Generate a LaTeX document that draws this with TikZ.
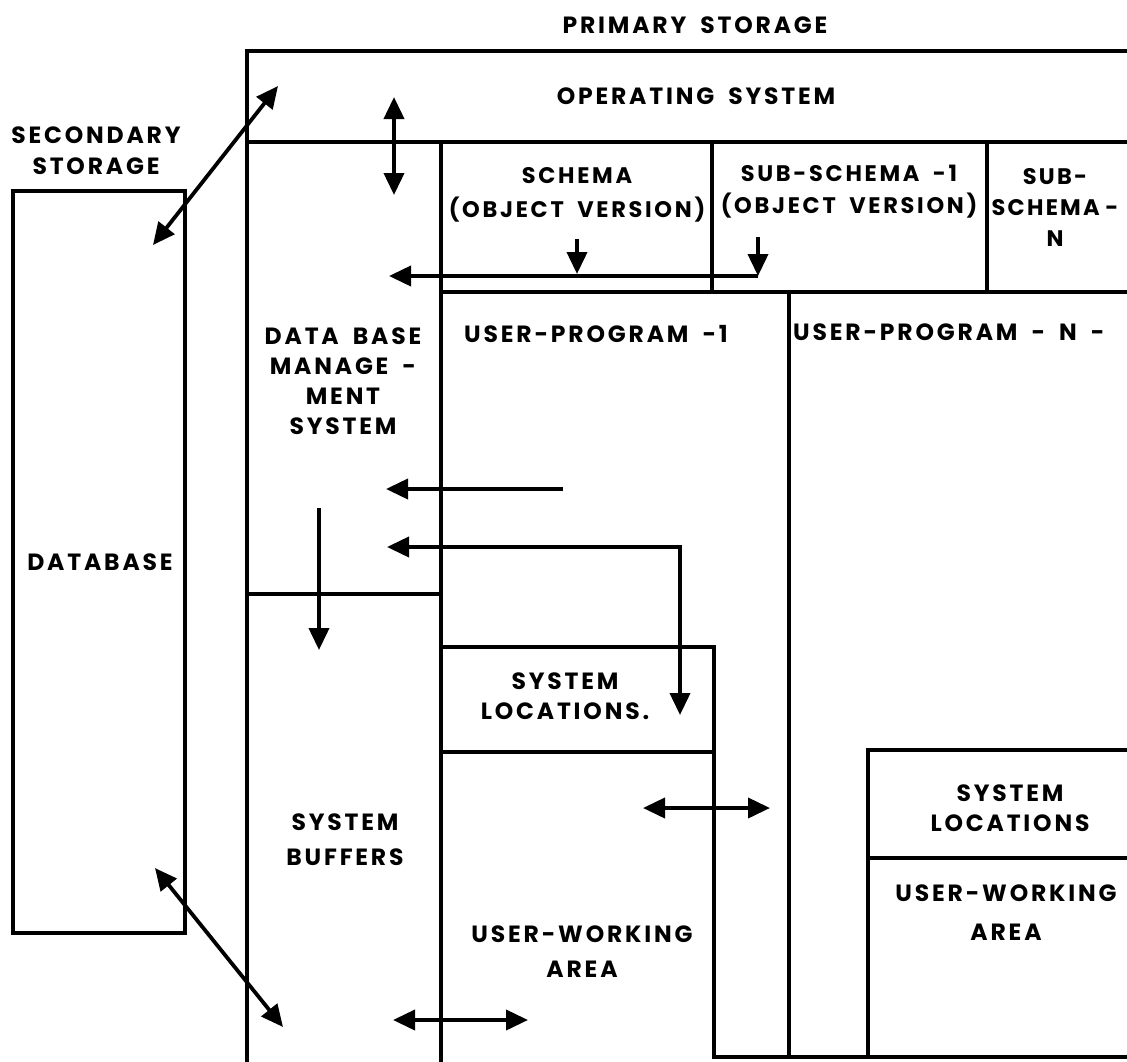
\documentclass[tikz,border=0pt]{standalone}
\usepackage{fontspec}
\setmainfont{Poppins}
\newfontfamily\labfont{Poppins}[LetterSpace=12,WordSpace=1.8]
\newfontfamily\labfontn{Poppins}[LetterSpace=10,WordSpace=0.8]
\usetikzlibrary{arrows.meta}
\begin{document}
\begin{tikzpicture}[x=1pt,y=-1pt,
  frame/.style={line width=3.8pt, line cap=rect},
  arr/.style={line width=3.8pt, -{Triangle[length=22pt,width=20pt]}},
  darr/.style={line width=3.8pt, {Triangle[length=22pt,width=20pt]}-{Triangle[length=22pt,width=20pt]}},
  lbl/.style={font=\labfont\bfseries\fontsize{23.5}{31}\selectfont, align=center, inner sep=0pt}]
\useasboundingbox (0,0) rectangle (1127,1061);

% ---------- frames ----------
\draw[frame] (1127,51) -- (247,51) -- (247,1061);
\draw[frame] (247,142) -- (1127,142);
\draw[frame] (441,142) -- (441,1061);
\draw[frame] (712,142) -- (712,292);
\draw[frame] (987,142) -- (987,292);
\draw[frame] (441,292) -- (1127,292);
\draw[frame] (789,292) -- (789,1057);
\draw[frame] (247,594) -- (441,594);
\draw[frame] (441,647) -- (714,647) -- (714,1057) -- (1127,1057);
\draw[frame] (441,752) -- (714,752);
\draw[frame] (1127,750) -- (868,750) -- (868,1057);
\draw[frame] (868,858) -- (1127,858);
\draw[frame] (13,191) rectangle (185,933);

% ---------- labels ----------
\node[lbl] (prim) at (695,25) {PRIMARY STORAGE};
\node[lbl] (os) at (696,96) {OPERATING SYSTEM};
\node[lbl] (sec) at (96,151) {SECONDARY\\STORAGE};
\node[lbl] (db) at (100,562) {DATABASE};
\node[lbl, font=\labfont\bfseries\fontsize{22.5}{34}\selectfont] (schema) at (577,195) {SCHEMA\\(OBJECT VERSION)};
\node[lbl, font=\labfont\bfseries\fontsize{22.5}{32}\selectfont] (sub1) at (849,192) {SUB-SCHEMA -1\\(OBJECT VERSION)};
\node[lbl, font=\labfontn\bfseries\fontsize{22.5}{31}\selectfont] (subn) at (1055,207) {SUB-\\SCHEMA -\\N};
\node[lbl] (up1) at (596,334) {USER-PROGRAM -1};
\node[lbl, anchor=west] (upn) at (793,332) {USER-PROGRAM - N -};
\node[lbl, font=\labfont\bfseries\fontsize{23.5}{30}\selectfont] (dbms) at (343,381) {DATA BASE\\MANAGE -\\MENT\\SYSTEM};
\node[lbl, font=\labfont\bfseries\fontsize{23.5}{30}\selectfont] (sl1) at (565,696) {SYSTEM\\LOCATIONS.};
\node[lbl, font=\labfont\bfseries\fontsize{23.5}{35}\selectfont] (buf) at (345,840) {SYSTEM\\BUFFERS};
\node[lbl, font=\labfont\bfseries\fontsize{23.5}{35}\selectfont] (uw1) at (582,952) {USER-WORKING\\AREA};
\node[lbl, font=\labfont\bfseries\fontsize{23.5}{30}\selectfont] (sl2) at (1010,808) {SYSTEM\\LOCATIONS};
\node[lbl, font=\labfont\bfseries\fontsize{23.5}{39}\selectfont] (uw2) at (1006,913) {USER-WORKING\\AREA};

% ---------- arrow end points ----------
\coordinate (a1s) at (153,245); \coordinate (a1e) at (278,86);
\coordinate (a2s) at (394,97);  \coordinate (a2e) at (394,195);
\coordinate (a3s) at (758,276); \coordinate (a3e) at (389,276);
\coordinate (a3a) at (577,239); \coordinate (a3b) at (577,274);
\coordinate (a3c) at (758,237); \coordinate (a3d) at (758,276);
\coordinate (a4s) at (563,489); \coordinate (a4e) at (386,489);
\coordinate (a5s) at (387,547); \coordinate (a5m) at (680,547); \coordinate (a5e) at (680,715);
\coordinate (a6s) at (319,508); \coordinate (a6e) at (319,650);
\coordinate (a7s) at (643,808); \coordinate (a7e) at (770,808);
\coordinate (a8s) at (155,868); \coordinate (a8e) at (283,1027);
\coordinate (a9s) at (393,1020); \coordinate (a9e) at (528,1020);

% ---------- arrows ----------
\draw[darr] (a1s) -- (a1e);
\draw[darr] (a2s) -- (a2e);
\draw[arr] (a3s) -- (a3e);
\draw[arr] (a3a) -- (a3b);
\draw[arr] (a3c) -- (a3d);
\draw[arr] (a4s) -- (a4e);
\draw[darr] (a5s) -- (a5m) -- (a5e);
\draw[arr] (a6s) -- (a6e);
\draw[darr] (a7s) -- (a7e);
\draw[darr] (a8s) -- (a8e);
\draw[darr] (a9s) -- (a9e);
\end{tikzpicture}
\end{document}
